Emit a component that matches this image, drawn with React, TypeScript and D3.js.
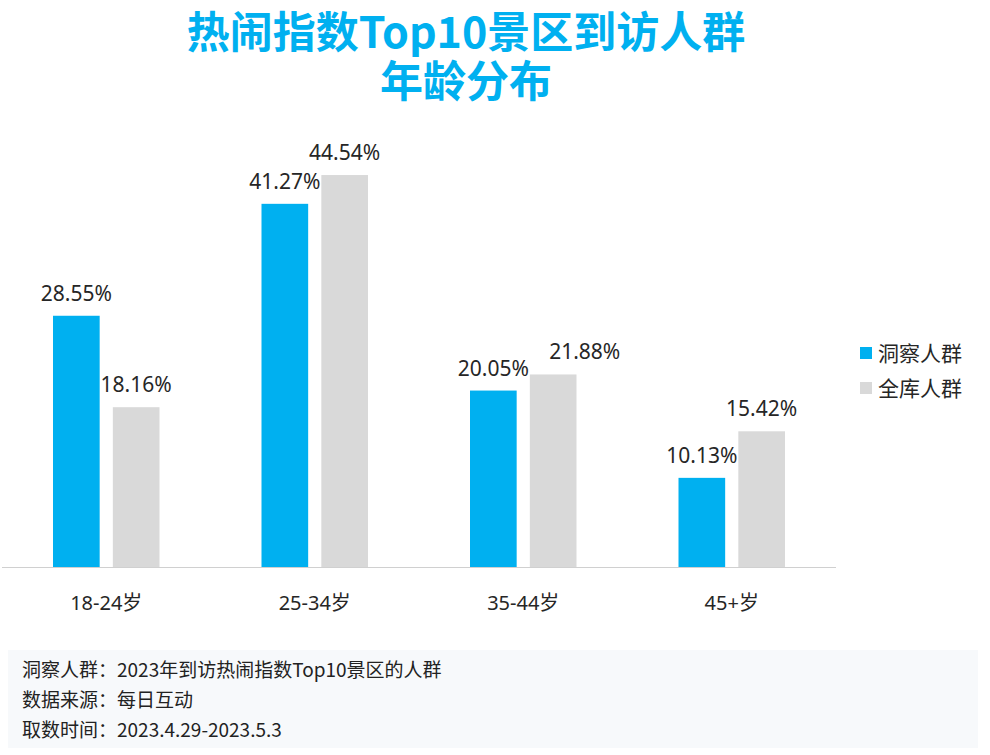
import React from 'react';
import * as d3 from 'd3';

const categories = ['18-24岁', '25-34岁', '35-44岁', '45+岁'];
const seriesNames = ['洞察人群', '全库人群'];
const insightValues = [28.55, 41.27, 20.05, 10.13];
const allValues = [18.16, 44.54, 21.88, 15.42];
const seriesColors = ['#00b0f0', '#d9d9d9'];
const titleLines = ['热闹指数Top10景区到访人群', '年龄分布'];
const notes = [
  '洞察人群：2023年到访热闹指数Top10景区的人群',
  '数据来源：每日互动',
  '取数时间：2023.4.29-2023.5.3',
];

const W = 990;
const H = 755;
const CJK = '"Noto Sans CJK SC", sans-serif';
const MIXED = '"Noto Sans", "Noto Sans CJK SC", sans-serif';
const LABEL_SIZE = 21;
const LABEL_W = 3.4 * LABEL_SIZE; // rough width of "00.00%"

const App: React.FC = () => {
  const plot = { left: 2, right: 836, top: 127, bottom: 567 };

  const x = d3
    .scaleBand<string>()
    .domain(categories)
    .range([plot.left, plot.right]);

  // bars sit inside the central part of each category band
  const groupInset = 51;
  const inner = d3
    .scaleBand<string>()
    .domain(seriesNames)
    .range([groupInset, x.bandwidth() - groupInset])
    .paddingInner(0.22);

  const y = d3.scaleLinear().domain([0, 50]).range([plot.bottom, plot.top]);

  const series = [insightValues, allValues];
  const bw = inner.bandwidth();

  // label positions, nudging the second label right when it collides with the first
  const labels = categories.map((c, ci) => {
    const items = series.map((vals, si) => {
      const bx = (x(c) || 0) + (inner(seriesNames[si]) || 0);
      return { cx: bx + bw / 2, ly: y(vals[ci]) - 15, v: vals[ci], si };
    });
    const [a, b] = items;
    if (Math.abs(a.ly - b.ly) < LABEL_SIZE && b.cx - a.cx < LABEL_W + 8) {
      b.cx = a.cx + LABEL_W + 20;
    }
    return items;
  });

  return (
    <svg
      width={W}
      height={H}
      style={{ position: 'absolute', left: 0, top: 0, background: '#fff' }}
      fontFamily={CJK}
    >
      {/* title */}
      <text textAnchor="middle" fontSize={43} fontWeight="bold" fill="#00b0f0">
        {titleLines.map((t, i) => (
          <tspan key={t} x={466} y={48 + i * 49}>
            {t}
          </tspan>
        ))}
      </text>

      {/* bars */}
      {series.map((vals, si) =>
        vals.map((v, ci) => {
          const bx = (x(categories[ci]) || 0) + (inner(seriesNames[si]) || 0);
          return (
            <rect
              key={`${si}-${ci}`}
              x={bx}
              y={y(v)}
              width={bw}
              height={y(0) - y(v)}
              fill={seriesColors[si]}
            />
          );
        })
      )}

      {/* value labels */}
      {labels.flat().map(l => (
        <text
          key={`${l.si}-${l.v}`}
          x={l.cx}
          y={l.ly}
          textAnchor="middle"
          fontFamily={MIXED}
          fontSize={LABEL_SIZE}
          fill="#262626"
        >
          {l.v.toFixed(2)}%
        </text>
      ))}

      {/* axis line */}
      <line
        x1={plot.left}
        x2={plot.right}
        y1={plot.bottom + 0.5}
        y2={plot.bottom + 0.5}
        stroke="#d0d0d0"
        strokeWidth={1}
      />

      {/* category labels */}
      {categories.map(c => (
        <text
          key={c}
          x={(x(c) || 0) + x.bandwidth() / 2}
          y={610}
          textAnchor="middle"
          fontFamily={MIXED}
          fontSize={20}
          fill="#262626"
        >
          {c}
        </text>
      ))}

      {/* legend */}
      {seriesNames.map((s, i) => (
        <g key={s} transform={`translate(860, ${347 + i * 35})`}>
          <rect x={0} y={0} width={12} height={12} fill={seriesColors[i]} />
          <text x={18} y={14} fontSize={21} fill="#262626">
            {s}
          </text>
        </g>
      ))}

      {/* footer notes */}
      <rect x={8} y={650} width={970} height={98} fill="#f7f9fb" />
      {notes.map((n, i) => (
        <text key={n} x={22} y={677 + i * 30} fontSize={19} fill="#222">
          {n}
        </text>
      ))}
    </svg>
  );
};

export default App;
